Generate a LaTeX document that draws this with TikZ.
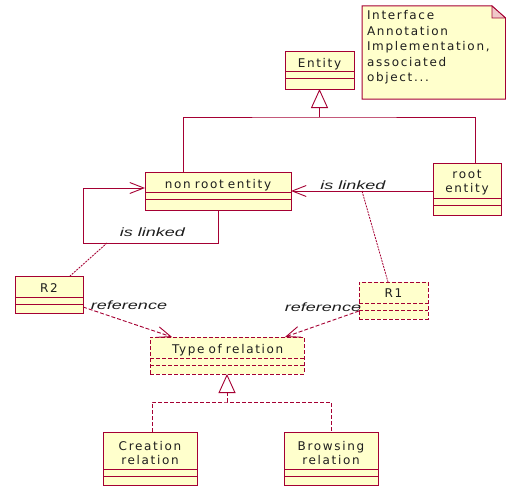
\documentclass[tikz,border=0pt]{standalone}
\usepackage{fontspec}
\setmainfont{Liberation Sans}
\newfontfamily\boxfont[LetterSpace=14]{DejaVu Sans}
\usetikzlibrary{arrows.meta}

\definecolor{umlborder}{RGB}{165,0,51}
\definecolor{umlfill}{RGB}{255,255,204}
\definecolor{umlfold}{RGB}{240,200,200}
\definecolor{umltext}{RGB}{30,30,30}

% spaced sans used inside the boxes and the note
\newcommand\spacedfont[2]{\boxfont\fontsize{#1}{#2}\selectfont}

% class box: name, style, left, top, right, bottom, first divider, name baseline, name
\newcommand\umlclass[9]{%
  \node[#2, minimum width={#5-#3}, minimum height={#6-#4}] (#1)
    at ({(#3+#5)/2},{(#4+#6)/2}) {};
  \draw[#2, fill=none] (#3,#7) -- (#5,#7) (#3,#7+7) -- (#5,#7+7);
  \node[boxtext] (#1-name) at ({(#3+#5)/2},#8) {#9};
}

\begin{document}
\begin{tikzpicture}[x=1pt,y=-1pt,
  every node/.style={inner sep=0pt, outer sep=0pt},
  classbox/.style={draw=umlborder, fill=umlfill, line width=1pt, rectangle},
  dashbox/.style={classbox, dash pattern=on 4pt off 2pt},
  boxtext/.style={font=\spacedfont{12}{14.5}, text=umltext,
    text width=110pt, align=center, anchor=base},
  edge/.style={draw=umlborder, line width=0.9pt},
  dep/.style={edge, dash pattern=on 4pt off 2pt},
  link/.style={edge, line width=0.8pt, dash pattern=on 2pt off 1pt},
  barb/.style={-{Straight Barb[length=14pt,width=11pt]}},
  gen/.style={-{Triangle[open,length=19pt,width=17pt]}},
  rolelabel/.style={font=\fontsize{12}{14}\selectfont\itshape, text=umltext, anchor=base},
]
\useasboundingbox (0,0) rectangle (506,487);

% note with folded corner
\draw[draw=umlborder, fill=umlfill, line width=1pt]
  (362,6) -- (492,6) -- (505.5,18) -- (505.5,99) -- (362,99) -- cycle;
\draw[draw=umlborder, fill=umlfold, line width=0.8pt] (492,6) -- (492,18) -- (505.5,18) -- cycle;
\node[font=\spacedfont{12}{15.5}, text=umltext, text width=140pt,
  align=left, anchor=base west] (note) at (367,20)
  {Interface\\Annotation\\Implementation,\\associated\\object...};

% classes
\umlclass{entity}{classbox}{285}{52}{354}{89}{72}{68}{Entity}
\umlclass{nonroot}{classbox}{145}{172}{291}{210}{192}{188.5}{non root entity}
\umlclass{root}{classbox}{433}{163}{501}{215}{198}{178}{root\\entity}
\umlclass{r2}{classbox}{15}{276}{83}{313}{297}{292}{R2}
\umlclass{r1}{dashbox}{359}{282}{428}{319}{303}{297}{R1}
\umlclass{type}{dashbox}{150}{337}{304}{374}{358}{353}{Type of relation}
\umlclass{creation}{classbox}{103}{432}{197}{485}{469}{450}{Creation\\relation}
\umlclass{browsing}{classbox}{284}{432}{378}{485}{469}{450}{Browsing\\relation}

% generalisation to Entity
\coordinate (genA) at (319.5,117);
\draw[edge] ([xshift=-35pt]nonroot.north) |- (genA) -| ([xshift=8pt]root.north);
\draw[edge, gen] (genA) -- (entity.south);

% associations
\draw[edge, barb] (root.west |- nonroot.east) -- (nonroot.east);
\node[rolelabel] (lblroot) at (353,189) {\scalebox{1.5}[1]{is linked}};
\coordinate (loopC) at (83,243);
\draw[edge, barb] (nonroot.south) |- (loopC) |- ([yshift=3pt]nonroot.west);
\node[rolelabel] (lblloop) at (152.5,236) {\scalebox{1.5}[1]{is linked}};

% association classes
\coordinate (linkA) at (362,191);
\draw[link] (linkA) -- ([xshift=-5.5pt]r1.north);
\coordinate (linkB) at (107,243);
\draw[link] (linkB) -- ([xshift=21pt]r2.north);

% references to the relation type
\draw[dep, barb] ([yshift=-12.5pt]r2.east) -- ([xshift=-55pt]type.north);
\node[rolelabel] (lblref2) at (129,309) {\scalebox{1.5}[1]{reference}};
\draw[dep, barb] ([yshift=-10.5pt]r1.west) -- ([xshift=58pt]type.north);
\node[rolelabel] (lblref1) at (323,311.5) {\scalebox{1.5}[1]{reference}};

% realisation of the relation type
\coordinate (realA) at (227,402);
\draw[dep] ([xshift=2pt]creation.north) |- (realA) -| (browsing.north);
\draw[dep, gen] (realA) -- (type.south);
\end{tikzpicture}
\end{document}
